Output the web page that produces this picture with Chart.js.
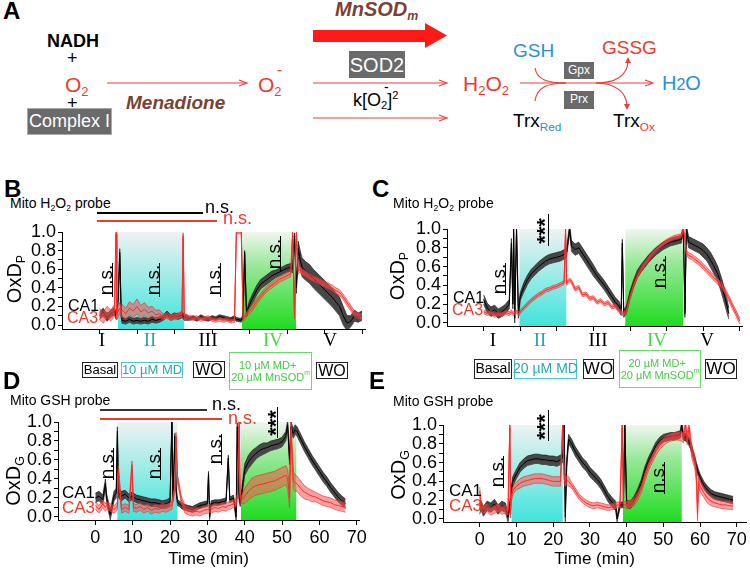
<!DOCTYPE html>
<html>
<head>
<meta charset="utf-8">
<script src="https://cdn.jsdelivr.net/npm/chart.js@4.4.1/dist/chart.umd.min.js"></script>
<style>
  body { margin: 0; width: 750px; height: 572px; background: #fff; position: relative; overflow: hidden;
         font-family: "Liberation Sans", Arial, sans-serif; color: #000; }
  canvas { position: absolute; }
  .t { position: absolute; white-space: nowrap; line-height: 1; }
  .r { position: absolute; white-space: nowrap; line-height: 1; transform: translate(-50%, -50%) rotate(-90deg); }
  .c { position: absolute; white-space: nowrap; line-height: 1; transform: translateX(-50%);
       font-family: "Liberation Serif", "Times New Roman", serif; font-size: 19px; }
  .sb { font-size: .62em; position: relative; top: .3em; }
  .sp { font-size: .62em; position: relative; top: -.6em; }
  .ln { position: absolute; background: #000; }
  .box { position: absolute; box-sizing: border-box; display: flex; align-items: center; justify-content: center;
         text-align: center; line-height: 1.1; white-space: nowrap; }
  .gray { background: #6a6a6a; color: #fff; }
  .pl { font-size: 24px; font-weight: bold; }
</style>
</head>
<body>

<canvas id="chartB" width="359" height="125" style="left:12px;top:218px"></canvas>
<canvas id="chartC" width="351" height="125" style="left:397px;top:215px"></canvas>
<canvas id="chartD" width="363" height="162" style="left:8px;top:408px"></canvas>
<canvas id="chartE" width="357" height="159" style="left:393px;top:411px"></canvas>

<!-- panel A schematic -->
<svg width="750" height="150" style="position:absolute;left:0;top:0">
  <g stroke="#e8403a" stroke-width="1.2" fill="none">
    <line x1="107" y1="83" x2="246" y2="83"/>
    <polyline points="239,80 247,83 239,86"/>
    <line x1="313" y1="83" x2="446" y2="83"/>
    <polyline points="439,80 447,83 439,86"/>
    <line x1="313" y1="118" x2="446" y2="118"/>
    <polyline points="439,115 447,118 439,121"/>
    <line x1="520" y1="83" x2="652" y2="83"/>
    <polyline points="645,80 653,83 645,86"/>
    <path d="M535,68 C537,80 548,83 566,83"/>
    <path d="M535,101 C537,87 548,83 566,83"/>
    <path d="M596,83 C615,83 627,76 628,62"/>
    <path d="M596,83 C615,83 626,92 627,105"/>
  </g>
  <polygon fill="#e8403a" points="625,63 628,57 631,63"/>
  <polygon fill="#e8403a" points="624,104 627,110 630,104"/>
  <polygon fill="#ff1a1a" points="313,30 425,30 425,23 447,35.5 425,48 425,42 313,42"/>
</svg>

<div class="t pl" style="left:3px;top:-1px">A</div>
<div class="t" style="left:47px;top:32px;font-size:18px;font-weight:bold">NADH</div>
<div class="t" style="left:67px;top:49px;font-size:18px">+</div>
<div class="t" style="left:65px;top:74px;font-size:21px;color:#ee3b2b">O<span class="sb">2</span></div>
<div class="t" style="left:67px;top:94px;font-size:18px">+</div>
<div class="box gray" style="left:27px;top:108px;width:85px;height:27px;font-size:18px;border:1px solid #aaa">Complex I</div>
<div class="t" style="left:126px;top:93px;font-size:19px;font-weight:bold;font-style:italic;color:#7a4233">Menadione</div>
<div class="t" style="left:258px;top:74px;font-size:21px;color:#ee3b2b">O<span class="sb">2</span></div>
<div class="t" style="left:277px;top:62px;font-size:15px;color:#ee3b2b">-</div>
<div class="t" style="left:335px;top:-1px;font-size:20px;font-weight:bold;font-style:italic;color:#7a4233">MnSOD<span class="sb">m</span></div>
<div class="box gray" style="left:349px;top:51px;width:56px;height:27px;font-size:20px">SOD2</div>
<div class="t" style="left:353px;top:91px;font-size:18px">k[O<span class="sb">2</span>]<span class="sp">2</span></div>
<div class="t" style="left:384px;top:80px;font-size:14px">-</div>
<div class="t" style="left:463px;top:73px;font-size:21px;color:#ee3b2b">H<span class="sb">2</span>O<span class="sb">2</span></div>
<div class="t" style="left:513px;top:41px;font-size:19px;color:#2b8fdc">GSH</div>
<div class="t" style="left:602px;top:38px;font-size:19px;color:#ee3b2b">GSSG</div>
<div class="box gray" style="left:564px;top:62px;width:30px;height:17px;font-size:12px">Gpx</div>
<div class="box gray" style="left:564px;top:91px;width:30px;height:18px;font-size:12px">Prx</div>
<div class="t" style="left:662px;top:73px;font-size:20px;color:#2b8fdc">H<span style="font-size:.8em">2</span>O</div>
<div class="t" style="left:513px;top:111px;font-size:19px">Trx<span class="sb" style="color:#2b8fdc">Red</span></div>
<div class="t" style="left:613px;top:111px;font-size:19px">Trx<span class="sb" style="color:#ee3b2b">Ox</span></div>

<!-- panel B -->
<div class="t pl" style="left:4px;top:177px">B</div>
<div class="t" style="left:10px;top:196px;font-size:14px">Mito H<span class="sb">2</span>O<span class="sb">2</span> probe</div>
<div class="ln" style="left:97px;top:212px;width:106px;height:1.5px"></div>
<div class="t" style="left:205px;top:198px;font-size:18px">n.s.</div>
<div class="ln" style="left:97px;top:220px;width:120px;height:1.5px;background:#ee3b2b"></div>
<div class="t" style="left:223px;top:209px;font-size:18px;color:#ee3b2b">n.s.</div>
<div class="r" style="left:14px;top:279px;font-size:20px">OxD<span class="sb">P</span></div>
<div class="r" style="left:105px;top:280px;font-size:19px">n.s.</div>
<div class="ln" style="left:112px;top:263px;width:1.2px;height:34px"></div>
<div class="r" style="left:152px;top:280px;font-size:19px">n.s.</div>
<div class="ln" style="left:159px;top:263px;width:1.2px;height:34px"></div>
<div class="r" style="left:213px;top:280px;font-size:19px">n.s.</div>
<div class="ln" style="left:220px;top:263px;width:1.2px;height:34px"></div>
<div class="r" style="left:273px;top:254px;font-size:19px">n.s.</div>
<div class="ln" style="left:280px;top:236px;width:1.2px;height:35px"></div>
<div class="t" style="left:68px;top:298px;font-size:16px">CA1</div>
<div class="t" style="left:67px;top:310px;font-size:16px;color:#ee3b2b">CA3</div>
<div class="c" style="left:102px;top:330px">I</div>
<div class="c" style="left:150px;top:330px;color:#26a4aa">II</div>
<div class="c" style="left:208px;top:330px">III</div>
<div class="c" style="left:273px;top:330px;color:#44dd44">IV</div>
<div class="c" style="left:330px;top:330px">V</div>
<div class="box" style="left:82px;top:362px;width:36px;height:16px;font-size:13px;border:1.5px solid #222">Basal</div>
<div class="box" style="left:121px;top:362px;width:62px;height:16px;font-size:13px;border:1.5px solid #4cc8cc;color:#2aa8b0">10 µM MD</div>
<div class="box" style="left:193px;top:361px;width:32px;height:17px;font-size:16px;border:1.5px solid #222">WO</div>
<div class="box" style="left:229px;top:352px;width:83px;height:38px;font-size:11px;border:1.5px solid #66dd66;color:#44cc44">10 µM MD+<br>20 µM MnSOD<span class="sb">m</span></div>
<div class="box" style="left:316px;top:362px;width:32px;height:17px;font-size:16px;border:1.5px solid #222">WO</div>

<!-- panel C -->
<div class="t pl" style="left:372px;top:177px">C</div>
<div class="t" style="left:393px;top:196px;font-size:14px">Mito H<span class="sb">2</span>O<span class="sb">2</span> probe</div>
<div class="r" style="left:397px;top:276px;font-size:20px">OxD<span class="sb">P</span></div>
<div class="r" style="left:498px;top:279px;font-size:19px">n.s.</div>
<div class="ln" style="left:505px;top:263px;width:1.2px;height:32px"></div>
<div class="r" style="left:545px;top:231px;font-size:22px;font-weight:bold">***</div>
<div class="ln" style="left:548px;top:214px;width:1.2px;height:32px"></div>
<div class="r" style="left:658px;top:273px;font-size:19px">n.s.</div>
<div class="ln" style="left:665px;top:256px;width:1.2px;height:33px"></div>
<div class="t" style="left:453px;top:290px;font-size:16px">CA1</div>
<div class="t" style="left:452px;top:302px;font-size:16px;color:#ee3b2b">CA3</div>
<div class="c" style="left:493px;top:330px">I</div>
<div class="c" style="left:540px;top:330px;color:#26a4aa">II</div>
<div class="c" style="left:598px;top:330px">III</div>
<div class="c" style="left:657px;top:330px;color:#44dd44">IV</div>
<div class="c" style="left:707px;top:330px">V</div>
<div class="box" style="left:474px;top:359px;width:38px;height:20px;font-size:14px;border:1.5px solid #222">Basal</div>
<div class="box" style="left:514px;top:359px;width:63px;height:20px;font-size:14px;border:1.5px solid #4cc8cc;color:#2aa8b0">20 µM MD</div>
<div class="box" style="left:583px;top:359px;width:31px;height:20px;font-size:17px;border:1.5px solid #222">WO</div>
<div class="box" style="left:619px;top:350px;width:82px;height:38px;font-size:11px;border:1.5px solid #66dd66;color:#44cc44">20 µM MD+<br>20 µM MnSOD<span class="sb">m</span></div>
<div class="box" style="left:705px;top:359px;width:32px;height:20px;font-size:17px;border:1.5px solid #222">WO</div>

<!-- panel D -->
<div class="t pl" style="left:3px;top:369px">D</div>
<div class="t" style="left:10px;top:393px;font-size:14px">Mito GSH probe</div>
<div class="ln" style="left:100px;top:409px;width:107px;height:1.5px;background:#333"></div>
<div class="t" style="left:212px;top:395px;font-size:18px">n.s.</div>
<div class="ln" style="left:100px;top:418px;width:122px;height:1.5px;background:#ee3b2b"></div>
<div class="t" style="left:228px;top:409px;font-size:18px;color:#ee3b2b">n.s.</div>
<div class="r" style="left:13px;top:481px;font-size:20px">OxD<span class="sb">G</span></div>
<div class="r" style="left:106px;top:464px;font-size:19px">n.s.</div>
<div class="ln" style="left:113px;top:448px;width:1.2px;height:32px"></div>
<div class="r" style="left:153px;top:464px;font-size:19px">n.s.</div>
<div class="ln" style="left:160px;top:448px;width:1.2px;height:32px"></div>
<div class="r" style="left:214px;top:449px;font-size:19px">n.s.</div>
<div class="ln" style="left:221px;top:434px;width:1.2px;height:31px"></div>
<div class="r" style="left:276px;top:423px;font-size:22px;font-weight:bold">***</div>
<div class="ln" style="left:277px;top:407px;width:1.2px;height:31px"></div>
<div class="t" style="left:62px;top:484px;font-size:17px">CA1</div>
<div class="t" style="left:62px;top:499px;font-size:17px;color:#ee3b2b">CA3</div>

<!-- panel E -->
<div class="t pl" style="left:369px;top:369px">E</div>
<div class="t" style="left:393px;top:394px;font-size:14px">Mito GSH probe</div>
<div class="r" style="left:398px;top:475px;font-size:20px">OxD<span class="sb">G</span></div>
<div class="r" style="left:496px;top:472px;font-size:19px">n.s.</div>
<div class="ln" style="left:503px;top:456px;width:1.2px;height:32px"></div>
<div class="r" style="left:545px;top:427px;font-size:22px;font-weight:bold">***</div>
<div class="ln" style="left:548px;top:410px;width:1.2px;height:31px"></div>
<div class="r" style="left:657px;top:478px;font-size:19px">n.s.</div>
<div class="ln" style="left:664px;top:462px;width:1.2px;height:32px"></div>
<div class="t" style="left:449px;top:482px;font-size:17px">CA1</div>
<div class="t" style="left:449px;top:497px;font-size:17px;color:#ee3b2b">CA3</div>

<script>
const FONT = '"Liberation Sans", Arial, sans-serif';

// axis ticks
const yTicks = [0, 0.1, 0.2, 0.3, 0.4, 0.5, 0.6, 0.7, 0.8, 0.9, 1.0];
const xTicks = [0, 10, 20, 30, 40, 50, 60, 70];

// treatment windows (min): MD, then MD + MnSOD
const bRegions = [[4.9, 22.6], [38, 52.4]];
const cRegions = [[9.8, 22.6], [38.7, 54.5]];
const dRegions = [[5.9, 22.0], [39, 53.8]];
const eRegions = [[8.7, 22.6], [39, 55]];

// ---- B: Mito H2O2 probe, 10 uM MD ----
const bTime = [0, 1, 2, 3, 4,
  4.4, 4.6, 5, 5.4, 5.8, 6,
  7, 8, 9, 10, 11, 12, 13, 14, 15, 16, 17, 18, 19, 20, 21, 22,
  22.3, 22.6, 23,
  24, 25, 26, 27, 28, 29, 30, 31, 32, 33, 34, 35, 36,
  36.5, 37.8, 38.3, 38.7, 39.2,
  40, 41, 42, 43, 44, 45, 46, 47, 48, 49, 50, 51,
  51.5, 52, 52.5, 53, 53.5, 54,
  55, 56, 57, 58, 59, 60, 61, 62, 63, 64, 65, 66, 67, 68, 69, 70];
const bCa1 = [0.10, 0.14, 0.08, 0.12, 0.15,
  0.10, 0.12, 0.30, 0.78, 0.10, 0.05,
  0.04, 0.06, 0.04, 0.05, 0.04, 0.05, 0.04, 0.06, 0.05, 0.06, 0.08, 0.12, 0.08, 0.10, 0.09, 0.11,
  0.10, 0.08, 0.08,
  0.07, 0.08, 0.06, 0.09, 0.07, 0.06, 0.08, 0.07, 0.09, 0.08, 0.07, 0.06, 0.08,
  0.06, 0.05, 0.10, 0.78, 0.12,
  0.22, 0.30, 0.38, 0.44, 0.47, 0.50, 0.53, 0.55, 0.57, 0.59, 0.61, 0.62,
  0.60, 0.95, 0.40, 0.82, 0.70, 0.62,
  0.58, 0.55, 0.50, 0.46, 0.42, 0.38, 0.34, 0.30, 0.25, 0.20, 0.10, 0.02, 0.04, 0.10, 0.08, 0.10];
const bCa1Err = [0.04, 0.04, 0.04, 0.04, 0.04,
  0.04, 0.04, 0.04, 0.04, 0.03, 0.03,
  0.03, 0.03, 0.03, 0.03, 0.03, 0.03, 0.03, 0.03, 0.03, 0.03, 0.03, 0.03, 0.03, 0.03, 0.03, 0.03,
  0.03, 0.03, 0.03,
  0.02, 0.02, 0.02, 0.02, 0.02, 0.02, 0.02, 0.02, 0.02, 0.02, 0.02, 0.02, 0.02,
  0.02, 0.02, 0.02, 0.02, 0.03,
  0.04, 0.05, 0.05, 0.05, 0.05, 0.05, 0.05, 0.04, 0.04, 0.04, 0.04, 0.04,
  0.04, 0.04, 0.06, 0.08, 0.10, 0.10,
  0.10, 0.10, 0.10, 0.10, 0.10, 0.10, 0.10, 0.10, 0.10, 0.10, 0.10, 0.08, 0.06, 0.06, 0.05, 0.05];
const bCa3 = [0.12, 0.08, 0.14, 0.10, 0.16,
  0.98, 0.12, 0.15, 0.18, 0.14, 0.16,
  0.12, 0.18, 0.15, 0.20, 0.14, 0.17, 0.13, 0.15, 0.11, 0.12, 0.09, 0.10, 0.08, 0.09, 0.10, 0.12,
  0.96, 0.08, 0.09,
  0.08, 0.07, 0.08, 0.06, 0.07, 0.08, 0.06, 0.05, 0.06, 0.05, 0.06, 0.04, 0.05,
  1.0, 1.0, 0.06, 0.08, 0.12,
  0.15, 0.20, 0.26, 0.31, 0.36, 0.40, 0.43, 0.46, 0.49, 0.51, 0.53, 0.55,
  0.99, 0.10, 0.99, 0.58, 0.60, 0.57,
  0.55, 0.52, 0.50, 0.48, 0.46, 0.44, 0.42, 0.40, 0.37, 0.35, 0.30, 0.24, 0.18, 0.12, 0.10, 0.09];
const bCa3Err = [0.06, 0.06, 0.06, 0.06, 0.06,
  0.06, 0.06, 0.06, 0.06, 0.06, 0.06,
  0.06, 0.07, 0.07, 0.08, 0.07, 0.07, 0.06, 0.05, 0.05, 0.04, 0.03, 0.03, 0.03, 0.03, 0.03, 0.03,
  0.03, 0.03, 0.03,
  0.02, 0.02, 0.02, 0.02, 0.02, 0.02, 0.02, 0.02, 0.02, 0.02, 0.02, 0.02, 0.02,
  0.02, 0.02, 0.02, 0.02, 0.02,
  0.03, 0.03, 0.03, 0.03, 0.03, 0.03, 0.03, 0.03, 0.03, 0.03, 0.03, 0.03,
  0.03, 0.03, 0.03, 0.03, 0.03, 0.03,
  0.03, 0.03, 0.03, 0.03, 0.03, 0.03, 0.03, 0.03, 0.03, 0.03, 0.03, 0.03, 0.03, 0.03, 0.03, 0.03];

// ---- C: Mito H2O2 probe, 20 uM MD ----
const cTime = [0, 1, 2, 3, 4, 5, 6, 7,
  7.6, 8, 8.2, 8.5, 9, 9.5, 9.8,
  10, 11, 12, 13, 14, 15, 16, 17, 18, 19, 20, 21, 22,
  22.4, 22.7, 23, 23.5, 23.8,
  24, 25, 26, 27, 28, 29, 30, 31, 32, 33, 34, 35, 36, 37,
  37.6, 37.9, 38.3,
  39, 40, 41, 42, 43, 44, 45, 46, 47, 48, 49, 50, 51, 52, 53, 54,
  54.6, 55, 55.4,
  56, 57, 58, 59, 60, 61, 62, 63, 64, 65, 66, 67, 68, 69, 70];
const cCa1 = [0.25, 0.16, 0.12, 0.14, 0.10, 0.12, 0.15, 0.20,
  0.85, 0.20, 1.0, 0.05, 1.0, 0.10, 0.20,
  0.28, 0.38, 0.46, 0.52, 0.56, 0.60, 0.63, 0.66, 0.68, 0.69, 0.70, 0.71, 0.73,
  0.74, 0.76, 0.85, 1.0, 0.90,
  0.82, 0.78, 0.80, 0.74, 0.68, 0.62, 0.56, 0.50, 0.45, 0.40, 0.34, 0.28, 0.22, 0.18,
  0.12, 0.85, 0.10,
  0.14, 0.30, 0.42, 0.52, 0.58, 0.63, 0.68, 0.72, 0.76, 0.79, 0.82, 0.84, 0.86, 0.87, 0.88, 0.89,
  1.0, 0.10, 1.0,
  0.86, 0.84, 0.82, 0.80, 0.77, 0.73, 0.67, 0.60, 0.52, 0.40, 0.26, 0.10, null, null, null];
const cCa1Err = [0.05, 0.05, 0.05, 0.05, 0.05, 0.05, 0.05, 0.05,
  0.05, 0.05, 0.05, 0.05, 0.05, 0.05, 0.05,
  0.04, 0.05, 0.05, 0.05, 0.05, 0.05, 0.05, 0.05, 0.05, 0.05, 0.05, 0.05, 0.05,
  0.05, 0.05, 0.05, 0.05, 0.05,
  0.06, 0.06, 0.06, 0.06, 0.06, 0.06, 0.06, 0.05, 0.05, 0.05, 0.05, 0.05, 0.05, 0.05,
  0.04, 0.04, 0.04,
  0.04, 0.04, 0.04, 0.04, 0.04, 0.04, 0.04, 0.04, 0.04, 0.04, 0.04, 0.04, 0.04, 0.04, 0.04, 0.04,
  0.04, 0.04, 0.04,
  0.06, 0.06, 0.06, 0.06, 0.07, 0.07, 0.08, 0.08, 0.08, 0.08, 0.08, 0.06, 0, 0, 0];
const cCa3 = [0.12, 0.10, 0.11, 0.08, 0.10, 0.09, 0.11, 0.10,
  0.12, 0.10, 0.10, 0.11, 0.12, 0.10, 0.10,
  0.12, 0.16, 0.20, 0.24, 0.27, 0.30, 0.32, 0.35, 0.36, 0.38, 0.39, 0.41, 0.43,
  1.0, 0.42, 0.44, 0.46, 0.45,
  0.44, 0.36, 0.38, 0.30, 0.31, 0.26, 0.27, 0.22, 0.24, 0.20, 0.22, 0.17, 0.18, 0.13,
  0.12, 0.10, 0.10,
  0.12, 0.28, 0.40, 0.50, 0.57, 0.63, 0.68, 0.73, 0.77, 0.81, 0.84, 0.87, 0.89, 0.91, 0.92, 0.93,
  1.0, 0.90, 0.75,
  0.72, 0.70, 0.67, 0.64, 0.60, 0.56, 0.52, 0.48, 0.44, 0.40, 0.34, 0.26, 0.18, 0.10, 0.02];
const cCa3Err = [0.02, 0.02, 0.02, 0.02, 0.02, 0.02, 0.02, 0.02,
  0.02, 0.02, 0.02, 0.02, 0.02, 0.02, 0.02,
  0.02, 0.02, 0.02, 0.02, 0.02, 0.02, 0.02, 0.02, 0.02, 0.02, 0.02, 0.02, 0.02,
  0.02, 0.02, 0.02, 0.02, 0.02,
  0.02, 0.02, 0.02, 0.02, 0.02, 0.02, 0.02, 0.02, 0.02, 0.02, 0.02, 0.02, 0.02, 0.02,
  0.02, 0.02, 0.02,
  0.02, 0.02, 0.02, 0.02, 0.02, 0.02, 0.02, 0.02, 0.02, 0.02, 0.02, 0.02, 0.02, 0.02, 0.02, 0.02,
  0.02, 0.02, 0.02,
  0.03, 0.03, 0.03, 0.03, 0.03, 0.03, 0.03, 0.03, 0.03, 0.03, 0.03, 0.03, 0.03, 0.03, 0.03];

// ---- D: Mito GSH probe, 10 uM MD ----
const dTime = [0, 1, 2, 2.7, 3, 4, 5,
  5.6, 5.9, 6.2, 7,
  8, 9, 9.8, 10.2, 11, 12, 13, 14, 15, 16, 17, 18, 19, 20,
  20.5, 20.8, 21.3, 21.6, 22, 22.5,
  23, 24, 25, 26, 27, 28, 29, 30, 30.3, 30.6, 31, 32, 33, 34, 35, 35.6, 36, 37,
  37.7, 38, 38.5, 38.8, 39.2,
  40, 41, 42, 43, 44, 45, 46, 47, 48, 49, 50, 51, 51.5, 52, 52.4, 53, 53.5,
  54, 55, 56, 57, 58, 59, 60, 61, 62, 63, 64, 65, 66, 67];
const dCa1 = [0.20, 0.22, 0.18, 0.35, 0.20, 0.02, 0.22,
  0.25, 0.90, 0.25, 0.22,
  0.24, 0.20, 0.22, 0.21, 0.19, 0.18, 0.17, 0.16, 0.15, 0.15, 0.14, 0.13, 0.14, 0.16,
  1.0, 0.20, 0.85, 0.30, 0.15, 0.14,
  0.12, 0.10, 0.09, 0.08, 0.10, 0.12, 0.13, 0.14, 0.45, 0.0, 0.14, 0.15, 0.15, 0.16, 0.17, 0.62, 0.18, 0.20,
  0.0, 0.95, 0.20, 0.15, 0.25,
  0.50, 0.58, 0.63, 0.67, 0.70, 0.72, 0.73, 0.75, 0.76, 0.77, 0.79, 0.85, 0.97, 0.60, 0.95, 0.88, 0.92,
  0.90, 0.82, 0.74, 0.67, 0.60, 0.54, 0.48, 0.42, 0.37, 0.31, 0.26, 0.21, 0.17, 0.14];
const dCa1Err = [0.05, 0.05, 0.05, 0.05, 0.05, 0.05, 0.05,
  0.05, 0.05, 0.05, 0.05,
  0.04, 0.04, 0.04, 0.04, 0.04, 0.04, 0.04, 0.04, 0.04, 0.04, 0.04, 0.04, 0.04, 0.04,
  0.03, 0.03, 0.03, 0.03, 0.03, 0.03,
  0.03, 0.03, 0.03, 0.03, 0.03, 0.03, 0.03, 0.03, 0.03, 0.03, 0.03, 0.03, 0.03, 0.03, 0.03, 0.03, 0.03, 0.03,
  0.04, 0.04, 0.04, 0.04, 0.04,
  0.06, 0.07, 0.07, 0.06, 0.06, 0.06, 0.05, 0.05, 0.05, 0.05, 0.05, 0.05, 0.05, 0.05, 0.05, 0.05, 0.05,
  0.05, 0.05, 0.05, 0.05, 0.05, 0.05, 0.05, 0.05, 0.05, 0.05, 0.05, 0.05, 0.05, 0.05];
const dCa3 = [0.12, 0.08, 0.14, 0.10, 0.12, 0.10, 0.08,
  0.10, 0.12, 0.50, 0.08,
  0.10, 0.08, 0.55, 0.10, 0.09, 0.11, 0.08, 0.10, 0.07, 0.09, 0.08, 0.10, 0.09, 0.11,
  0.12, 0.20, 0.30, 0.85, 0.40, 0.30,
  0.18, 0.08, 0.06, 0.05, 0.06, 0.05, 0.07, 0.08, 0.08, 0.09, 0.08, 0.10, 0.09, 0.11, 0.10, 0.12, 0.12, 0.14,
  0.15, 0.20, 1.0, 0.20, 0.18,
  0.22, 0.27, 0.31, 0.33, 0.34, 0.35, 0.36, 0.37, 0.38, 0.40, 0.42, 0.44, 0.40, 0.20, 0.92, 0.38, 0.36,
  0.35, 0.30, 0.26, 0.24, 0.22, 0.21, 0.19, 0.17, 0.16, 0.15, 0.13, 0.12, 0.11, 0.10];
const dCa3Err = [0.04, 0.04, 0.04, 0.04, 0.04, 0.04, 0.04,
  0.04, 0.04, 0.04, 0.04,
  0.04, 0.04, 0.04, 0.04, 0.04, 0.04, 0.04, 0.04, 0.04, 0.04, 0.04, 0.04, 0.04, 0.04,
  0.04, 0.04, 0.04, 0.04, 0.04, 0.04,
  0.04, 0.04, 0.04, 0.04, 0.04, 0.04, 0.04, 0.04, 0.04, 0.04, 0.04, 0.04, 0.04, 0.04, 0.04, 0.04, 0.04, 0.04,
  0.04, 0.04, 0.04, 0.04, 0.04,
  0.08, 0.09, 0.10, 0.10, 0.10, 0.10, 0.10, 0.10, 0.10, 0.10, 0.10, 0.10, 0.10, 0.10, 0.10, 0.09, 0.09,
  0.08, 0.08, 0.07, 0.06, 0.06, 0.05, 0.05, 0.05, 0.05, 0.05, 0.05, 0.05, 0.05, 0.05];

// ---- E: Mito GSH probe, 20 uM MD ----
const eTime = [0, 0.3, 1, 2, 3, 4, 5, 6, 7, 7.7,
  8.2, 8.4, 8.6, 9, 10,
  11, 12, 13, 14, 15, 16, 17, 18, 19, 20, 21, 22,
  22.6, 23, 23.3, 23.7, 24.2,
  25, 26, 27, 28, 29, 30, 31, 32, 33, 34, 35, 36, 37,
  37.4, 38.2, 38.8, 39.1, 39.5,
  40, 41, 42, 43, 44, 45, 46, 47, 48, 49, 50, 51, 52, 53, 54,
  54.6, 55, 55.4, 56, 56.5, 57, 57.6, 58, 58.6, 59, 59.3, 59.6, 60, 61, 62, 63, 64, 65, 66, 67, 68, 69];
const eCa1 = [0.10, 0.15, 0.08, 0.14, 0.12, 0.16, 0.10, 0.14, 0.12, 0.02,
  0.15, 0.20, 0.30, 0.40, 0.48,
  0.55, 0.59, 0.62, 0.63, 0.64, 0.64, 0.63, 0.63, 0.62, 0.62, 0.61, 0.63,
  0.65, 1.0, 0.02, 0.60, 0.85,
  0.80, 0.72, 0.66, 0.60, 0.56, 0.50, 0.46, 0.42, 0.37, 0.30, 0.23, 0.18, 0.14,
  0.0, 0.15, 0.15, 0.15, 1.0,
  0.16, 0.15, 0.20, 0.28, 0.38, 0.52, 0.62, 0.70, 0.78, 0.83, 0.86, 0.87, 0.88, 0.88, 0.89,
  0.90, 1.0, 0.88, 0.87, 0.86, 0.82, 0.76, 0.70, 0.62, 0.56, 0.52, 0.48, 0.44, 0.36, 0.31, 0.27, 0.25, 0.24, 0.23, 0.22, 0.21, 0.20];
const eCa1Err = [0.05, 0.05, 0.05, 0.05, 0.05, 0.05, 0.05, 0.05, 0.05, 0.05,
  0.05, 0.05, 0.05, 0.05, 0.05,
  0.05, 0.05, 0.05, 0.05, 0.05, 0.05, 0.05, 0.05, 0.05, 0.05, 0.05, 0.05,
  0.05, 0.05, 0.05, 0.05, 0.05,
  0.05, 0.05, 0.05, 0.05, 0.05, 0.05, 0.05, 0.05, 0.05, 0.05, 0.05, 0.05, 0.05,
  0.03, 0.03, 0.03, 0.03, 0.03,
  0.04, 0.04, 0.04, 0.04, 0.04, 0.04, 0.04, 0.04, 0.04, 0.04, 0.04, 0.04, 0.04, 0.04, 0.04,
  0.04, 0.04, 0.04, 0.04, 0.04, 0.04, 0.04, 0.04, 0.04, 0.04, 0.04, 0.04, 0.04, 0.04, 0.04, 0.04, 0.04, 0.04, 0.04, 0.04, 0.04, 0.04];
const eCa3 = [0.30, 0.14, 0.10, 0.12, 0.08, 0.10, 0.12, 0.09, 0.10, 0.08,
  1.0, 0.05, 0.22, 0.30, 0.35,
  0.38, 0.40, 0.41, 0.42, 0.43, 0.43, 0.43, 0.42, 0.41, 0.40, 0.40, 0.40,
  1.0, 0.42, 0.40, 0.41, 0.40,
  0.36, 0.30, 0.24, 0.20, 0.17, 0.15, 0.14, 0.15, 0.14, 0.13, 0.12, 0.13, 0.14,
  0.15, 0.15, 1.0, 0.16, 0.15,
  0.15, 0.16, 0.18, 0.24, 0.32, 0.45, 0.56, 0.64, 0.72, 0.78, 0.82, 0.85, 0.87, 0.88, 0.88,
  0.88, 0.88, 0.86, 1.0, 0.85, 0.98, 0.75, 0.68, 0.60, 0.45, 0.05, 0.40, 0.35, 0.28, 0.22, 0.19, 0.17, 0.16, 0.15, 0.15, 0.14, 0.14];
const eCa3Err = [0.04, 0.04, 0.04, 0.04, 0.04, 0.04, 0.04, 0.04, 0.04, 0.04,
  0.04, 0.04, 0.04, 0.04, 0.04,
  0.05, 0.05, 0.05, 0.05, 0.05, 0.05, 0.05, 0.05, 0.05, 0.05, 0.05, 0.05,
  0.05, 0.05, 0.05, 0.05, 0.05,
  0.03, 0.03, 0.03, 0.03, 0.03, 0.03, 0.03, 0.03, 0.03, 0.03, 0.03, 0.03, 0.03,
  0.03, 0.03, 0.03, 0.03, 0.03,
  0.04, 0.04, 0.04, 0.04, 0.04, 0.04, 0.04, 0.04, 0.04, 0.04, 0.04, 0.04, 0.04, 0.04, 0.04,
  0.05, 0.05, 0.05, 0.06, 0.06, 0.06, 0.07, 0.07, 0.07, 0.07, 0.07, 0.06, 0.06, 0.05, 0.05, 0.05, 0.04, 0.04, 0.04, 0.04, 0.04, 0.04];

const cyanStops = [[0, '#eef2f2'], [0.45, '#a2ece8'], [1, '#3fe4dc']];
const greenStops = [[0, '#f0f6f0'], [0.35, '#98e898'], [1, '#1fdc1f']];

// shaded treatment windows, drawn behind the traces
const shadePlugin = {
  id: 'shade',
  beforeDatasetsDraw(chart, args, opts) {
    const { ctx, chartArea, scales } = chart;
    opts.regions.forEach((r, k) => {
      const x0 = scales.x.getPixelForValue(r[0]);
      const x1 = scales.x.getPixelForValue(r[1]);
      const g = ctx.createLinearGradient(0, chartArea.top, 0, chartArea.bottom);
      (k === 0 ? cyanStops : greenStops).forEach(s => g.addColorStop(s[0], s[1]));
      ctx.save();
      ctx.fillStyle = g;
      ctx.fillRect(x0, chartArea.top, x1 - x0, chartArea.bottom - chartArea.top);
      ctx.restore();
    });
  }
};

function pts(time, vals, errs, sign) {
  return time.map((t, i) => {
    const v = vals[i];
    if (v === null) return { x: t, y: null };
    return { x: t, y: errs ? v + sign * errs[i] : v };
  });
}

function drawPanel(id, p) {
  const ca3 = { fill: 'rgba(255,80,80,0.55)', edge: 'rgba(235,40,40,0.9)', line: '#ff2a2a' };
  const ca1 = { fill: '#474747', edge: '#1a1a1a', line: '#000' };
  const datasets = [];
  [[p.ca3, p.ca3Err, ca3], [p.ca1, p.ca1Err, ca1]].forEach(([m, e, st]) => {
    datasets.push({ data: pts(p.time, m), borderColor: st.line, borderWidth: 1, fill: false, pointRadius: 0 });
    datasets.push({ data: pts(p.time, m, e, 1), borderColor: st.edge, borderWidth: 0.7, backgroundColor: st.fill, fill: '+1', pointRadius: 0 });
    datasets.push({ data: pts(p.time, m, e, -1), borderColor: st.edge, borderWidth: 0.7, fill: false, pointRadius: 0 });
  });

  new Chart(document.getElementById(id), {
    type: 'line',
    data: { datasets },
    plugins: [shadePlugin],
    options: {
      responsive: false,
      animation: false,
      devicePixelRatio: 1,
      layout: { padding: { top: 14, right: p.padRight, left: 0, bottom: 0 } },
      elements: { line: { tension: 0 } },
      plugins: {
        legend: { display: false },
        tooltip: { enabled: false },
        shade: { regions: p.regions }
      },
      scales: {
        x: {
          type: 'linear',
          min: -10,
          max: p.xMax,
          afterBuildTicks: s => { s.ticks = xTicks.map(v => ({ value: v })); },
          afterFit: s => { s.height = p.xH; },
          ticks: {
            autoSkip: false, maxRotation: 0, padding: 2,
            callback: v => (p.xLabels ? String(v) : ''),
            font: { size: 18, family: FONT }, color: '#000'
          },
          grid: { drawOnChartArea: false, tickLength: 5, color: '#000' },
          border: { color: '#000', width: 1 },
          title: {
            display: p.xLabels, text: 'Time (min)',
            font: { size: 17, family: FONT }, color: '#000', padding: { top: 0, bottom: 0 }
          }
        },
        y: {
          min: p.yMin,
          max: 1.0,
          afterBuildTicks: s => { s.ticks = yTicks.map(v => ({ value: v })); },
          afterFit: s => { s.width = 50; },
          ticks: {
            autoSkip: false, padding: 2,
            callback: v => (Math.round(v * 10) % 2 === 0 ? v.toFixed(1) : ''),
            font: { size: 18, family: FONT }, color: '#000'
          },
          grid: { drawOnChartArea: false, tickLength: 4, color: '#000' },
          border: { color: '#000', width: 1 }
        }
      }
    }
  });
}

drawPanel('chartB', { time: bTime, ca1: bCa1, ca1Err: bCa1Err, ca3: bCa3, ca3Err: bCa3Err,
  regions: bRegions, xMax: 70.8, yMin: -0.043, xH: 14, padRight: 6, xLabels: false });
drawPanel('chartC', { time: cTime, ca1: cCa1, ca1Err: cCa1Err, ca3: cCa3, ca3Err: cCa3Err,
  regions: cRegions, xMax: 70.6, yMin: -0.032, xH: 14, padRight: 6, xLabels: false });
drawPanel('chartD', { time: dTime, ca1: dCa1, ca1Err: dCa1Err, ca3: dCa3, ca3Err: dCa3Err,
  regions: dRegions, xMax: 70.6, yMin: -0.032, xH: 50, padRight: 12, xLabels: true });
drawPanel('chartE', { time: eTime, ca1: eCa1, ca1Err: eCa1Err, ca3: eCa3, ca3Err: eCa3Err,
  regions: eRegions, xMax: 72.5, yMin: -0.032, xH: 48, padRight: 4, xLabels: true });
</script>
</body>
</html>
